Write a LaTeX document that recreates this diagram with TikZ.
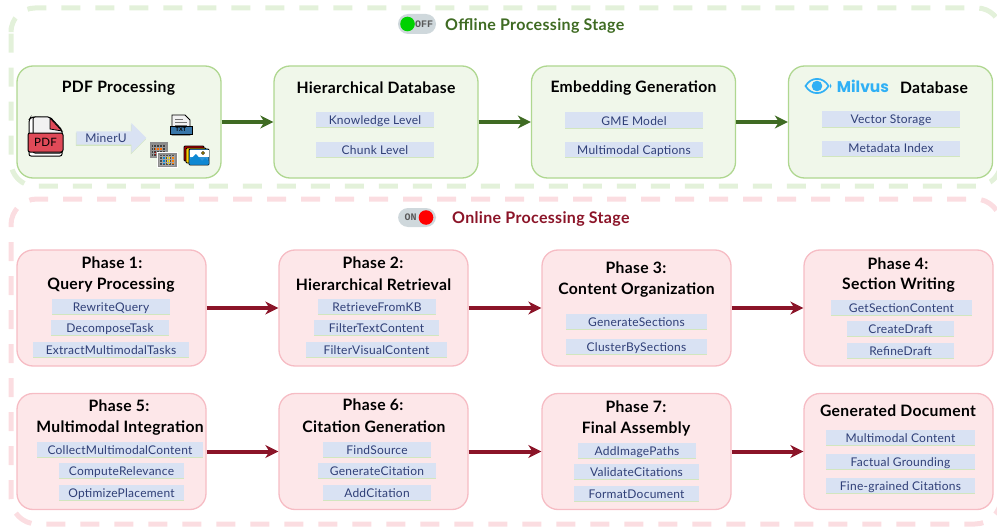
\documentclass[tikz,border=0pt]{standalone}
\usepackage{fontspec}
\setmainfont{Lato}[LetterSpace=2]
\newfontfamily\logofont{Poppins}
\newfontfamily\switchfont{Liberation Mono}
\usetikzlibrary{arrows.meta}
\usetikzlibrary{shapes.arrows}
\usetikzlibrary{shadows}

\definecolor{offgreen}{HTML}{3F6B23}
\definecolor{onred}{HTML}{8B1428}
\definecolor{gfill}{HTML}{F0F7EA}
\definecolor{gline}{HTML}{AFD790}
\definecolor{pfill}{HTML}{FDE7E9}
\definecolor{pline}{HTML}{F6BCC4}
\definecolor{gdash}{HTML}{E3F1DA}
\definecolor{pdash}{HTML}{FBDDE1}
\definecolor{chipfill}{HTML}{D9E2F3}
\definecolor{chiptext}{HTML}{2F3F77}
\definecolor{chipshade}{HTML}{D2E6BF}
\definecolor{milvus}{HTML}{30B0F5}
\definecolor{pdfred}{HTML}{E04A58}
\definecolor{switchgrey}{HTML}{CFD8DC}

\tikzset{
  gbox/.style={draw=gline, fill=gfill, line width=1.3pt, rounded corners=16pt, minimum width=204pt, minimum height=112pt},
  pbox/.style={draw=pline, fill=pfill, line width=1.3pt, rounded corners=16pt, minimum width=189pt, minimum height=116pt},
  title/.style={font=\fontsize{15.7}{18}\selectfont\bfseries, text=black, inner sep=0pt, yshift=-1pt},
  chip/.style={fill=chipfill, text=chiptext, font=\fontsize{12}{14}\selectfont, inner sep=0pt, minimum height=15pt, text height=11pt, text depth=1pt,
    drop shadow={shadow xshift=0pt, shadow yshift=-1.3pt, fill=chipshade, opacity=1}},
  garrow/.style={draw=offgreen, line width=4pt, -{Stealth[length=13pt,width=13pt,inset=4pt]}},
  parrow/.style={draw=onred, line width=4pt, -{Stealth[length=13pt,width=13pt,inset=4pt]}},
  stage/.style={font=\fontsize{16}{18}\selectfont\bfseries, inner sep=0pt, anchor=west, yshift=-1pt},
  switchtext/.style={font=\fontsize{10}{10}\selectfont\switchfont\bfseries, text=black!65, inner sep=0pt}
}

\begin{document}
\begin{tikzpicture}[x=1pt, y=-1pt]
  \useasboundingbox (0,0) rectangle (997,527);

  % stage frames
  \draw[gdash, line width=5pt, dash pattern=on 19pt off 15pt, rounded corners=24pt] (11,52) -- (11,8) -- (1001,8) -- (1001,186) -- (11,186) -- cycle;
  \draw[pdash, line width=5pt, dash pattern=on 19pt off 15pt, rounded corners=26pt] (11,250) -- (11,199) -- (1001,199) -- (1001,524) -- (11,524) -- cycle;

  % offline switch
  \fill[switchgrey, rounded corners=10pt] (398,14) rectangle (436,34);
  \fill[green!82!black] (407.5,24) circle (7.3);
  \node[switchtext] (offtext) at (424,24) {OFF};
  \node[stage, text=offgreen] (offstage) at (445,25) {Offline Processing Stage};

  % online switch
  \fill[switchgrey, rounded corners=10pt] (398,208) rectangle (436,227);
  \fill[red] (426,217.5) circle (7.3);
  \node[switchtext] (ontext) at (410.5,217.5) {ON};
  \node[stage, text=onred] (onstage) at (452,218) {Online Processing Stage};

  % offline boxes
  \node[gbox] (pdfbox) at (119,122) {};
  \node[gbox] (hierbox) at (376,122) {};
  \node[gbox] (embbox) at (633.5,122) {};
  \node[gbox] (milvusbox) at (890.5,122) {};

  % online boxes
  \node[pbox] (phaseone) at (111.5,308) {};
  \node[pbox] (phasetwo) at (373.5,308) {};
  \node[pbox] (phasethree) at (636.5,308) {};
  \node[pbox] (phasefour) at (898.5,308) {};
  \node[pbox] (phasefive) at (111.5,451.5) {};
  \node[pbox] (phasesix) at (373.5,451.5) {};
  \node[pbox] (phaseseven) at (636.5,451.5) {};
  \node[pbox] (gendoc) at (898.5,451.5) {};

  % arrows
  \draw[garrow] (pdfbox) -- (hierbox);
  \draw[garrow] (hierbox) -- (embbox);
  \draw[garrow] (embbox) -- (milvusbox);
  \draw[parrow] (phaseone) -- (phasetwo);
  \draw[parrow] (phasetwo) -- (phasethree);
  \draw[parrow] (phasethree) -- (phasefour);
  \draw[parrow] (phasefive) -- (phasesix);
  \draw[parrow] (phasesix) -- (phaseseven);
  \draw[parrow] (phaseseven) -- (gendoc);

  % offline titles
  \node[title] (pdftitle) at (118.5,87) {PDF Processing};
  \node[title] (hiertitle) at (376,87) {Hierarchical Database};
  \node[title] (embtitle) at (633.5,87) {Embedding Generation};
  \node[title] (dbtitle) at (934,87) {Database};
  \node[inner sep=0pt, text=milvus, font=\fontsize{15.5}{18}\selectfont\logofont\bfseries] (milvustext) at (863,86.5) {Milvus};

  % milvus eye
  \draw[milvus, line width=1.7pt] (805.5,86) .. controls (811,76.5) and (823,76.5) .. (828.5,86) .. controls (823,95.5) and (811,95.5) .. (805.5,86) -- cycle;
  \fill[milvus] (817,86) circle (5.3);
  \fill[milvus] (830,83.5) -- (831.5,86) -- (830,88.5) -- cycle;

  % offline chips
  \node[chip, minimum width=118pt] (knowledge) at (375,119.5) {Knowledge Level};
  \node[chip, minimum width=118pt] (chunk) at (375,149.5) {Chunk Level};
  \node[chip, minimum width=138pt] (gme) at (634,120) {GME Model};
  \node[chip, minimum width=138pt] (captions) at (634,149) {Multimodal Captions};
  \node[chip, minimum width=138pt] (vector) at (891,119) {Vector Storage};
  \node[chip, minimum width=138pt] (metadata) at (891,148) {Metadata Index};

  % phase 1
  \node[title] (oneline) at (112,262) {Phase 1:};
  \node[title] (onename) at (111,284) {Query Processing};
  \node[chip, minimum width=118pt] (rewrite) at (111,306.5) {RewriteQuery};
  \node[chip, minimum width=118pt] (decompose) at (110,327.5) {DecomposeTask};
  \node[chip, minimum width=156pt] (extract) at (111,349.5) {ExtractMultimodalTasks};

  % phase 2
  \node[title] (twoline) at (373,262) {Phase 2:};
  \node[title] (twoname) at (373.5,284) {Hierarchical Retrieval};
  \node[chip, minimum width=118pt] (retrieve) at (377,306.5) {RetrieveFromKB};
  \node[chip, minimum width=125pt] (filtertext) at (376.5,327.5) {FilterTextContent};
  \node[chip, minimum width=141pt] (filtervisual) at (376.5,349.5) {FilterVisualContent};

  % phase 3
  \node[title] (threeline) at (636,267) {Phase 3:};
  \node[title] (threename) at (636.5,289) {Content Organization};
  \node[chip, minimum width=141pt] (sections) at (636.5,321.5) {GenerateSections};
  \node[chip, minimum width=141pt] (cluster) at (636.5,346.5) {ClusterBySections};

  % phase 4
  \node[title] (fourline) at (898,263) {Phase 4:};
  \node[title] (fourname) at (898.5,284) {Section Writing};
  \node[chip, minimum width=141pt] (getsection) at (901.5,307.5) {GetSectionContent};
  \node[chip, minimum width=107pt] (createdraft) at (900.5,328.5) {CreateDraft};
  \node[chip, minimum width=107pt] (refinedraft) at (900.5,350.5) {RefineDraft};

  % phase 5
  \node[title] (fiveline) at (119,405) {Phase 5:};
  \node[title] (fivename) at (120,427) {Multimodal Integration};
  \node[chip, minimum width=166pt] (collect) at (120,449.5) {CollectMultimodalContent};
  \node[chip, minimum width=125pt] (relevance) at (121.5,470.5) {ComputeRelevance};
  \node[chip, minimum width=125pt] (placement) at (121.5,492.5) {OptimizePlacement};

  % phase 6
  \node[title] (sixline) at (373,404) {Phase 6:};
  \node[title] (sixname) at (374,426) {Citation Generation};
  \node[chip, minimum width=108pt] (findsource) at (377,449.5) {FindSource};
  \node[chip, minimum width=118pt] (gencitation) at (377,470.5) {GenerateCitation};
  \node[chip, minimum width=108pt] (addcitation) at (377,492.5) {AddCitation};

  % phase 7
  \node[title] (sevenline) at (636,406) {Phase 7:};
  \node[title] (sevenname) at (636,428) {Final Assembly};
  \node[chip, minimum width=118pt] (imagepaths) at (637,450.5) {AddImagePaths};
  \node[chip, minimum width=125pt] (validate) at (636.5,471.5) {ValidateCitations};
  \node[chip, minimum width=125pt] (format) at (636.5,493.5) {FormatDocument};

  % generated document
  \node[title] (gentitle) at (898,410) {Generated Document};
  \node[chip, minimum width=149pt] (multicontent) at (900.5,437.5) {Multimodal Content};
  \node[chip, minimum width=149pt] (factual) at (900.5,461.5) {Factual Grounding};
  \node[chip, minimum width=149pt] (finegrained) at (900.5,485) {Fine-grained Citations};

  % miner arrow
  \node[single arrow, fill=chipfill, text=chiptext, font=\fontsize{12}{14}\selectfont, inner sep=1pt, minimum width=30pt, minimum height=70pt,
    single arrow head extend=7pt, single arrow head indent=0pt,
    drop shadow={shadow xshift=-0.5pt, shadow yshift=-1.3pt, fill=chipshade, opacity=1}] (miner) at (108,138) {\hspace*{-4pt}MinerU};

  % pdf icon
  \draw[black, line width=1pt, fill=white, rounded corners=2pt] (29,120) -- (29,156) -- (62,156) -- (62,133) -- (50,118) -- (31,117) -- cycle;
  \draw[black, line width=1pt, fill=black!5, rounded corners=2pt] (33,117) -- (50,117) -- (62,130) -- (62,153) -- (33,153) -- cycle;
  \draw[black, line width=0.8pt, fill=pdfred] (50,118) -- (62,131) -- (50,129) -- cycle;
  \node[draw=black, line width=1pt, fill=pdfred, rounded corners=2pt, text=black, font=\fontsize{11.5}{13}\selectfont, inner sep=0pt, minimum width=35pt, minimum height=19pt] (pdflabel) at (45.5,142.5) {PDF};

  % txt icon
  \draw[black, line width=0.9pt, fill=black!5] (172,115) -- (185,115) -- (190,120) -- (190,135) -- (172,135) -- cycle;
  \draw[black!55, line width=0.9pt] (175,119) -- (183,119) (175,122) -- (187,122) (175,125) -- (187,125);
  \node[draw=black, line width=0.8pt, fill=cyan!65!blue!75!black, text=black, font=\fontsize{5.5}{6}\selectfont\bfseries, inner sep=0pt, minimum width=22pt, minimum height=8pt] (txtlabel) at (181,130) {TXT};

  % table icons
  \fill[black!45] (150,142) rectangle (168,158);
  \fill[black!75] (152,145) rectangle (166,156);
  \fill[orange!85!red] (155,148) rectangle (163,151);
  \fill[red!75!black] (155,152) rectangle (163,155);
  \draw[black!40, line width=0.4pt, step=3pt] (152,145) grid (166,156);
  \draw[white, line width=0.6pt, fill=black!45] (157,152) rectangle (177,167);
  \fill[black!70] (159,155) rectangle (175,165);
  \fill[cyan!70!blue] (163,157) rectangle (166,164);
  \fill[yellow!85!orange] (167,157) rectangle (170,164);
  \fill[orange] (171,157) rectangle (174,164);
  \draw[black!35, line width=0.4pt, step=3pt] (159,155) grid (175,165);

  % image icon
  \draw[black, line width=0.8pt, fill=red!70!black, rounded corners=1pt] (184,146) rectangle (204,161);
  \draw[black, line width=0.8pt, fill=yellow!70!orange, rounded corners=1pt] (186,148) rectangle (206,163);
  \draw[black, line width=0.9pt, fill=cyan!70!blue!85!white, rounded corners=1pt] (189,149) rectangle (209,165);
  \fill[white] (189.5,149.5) rectangle (208.5,157);
  \fill[cyan!70!blue] (189.5,164.5) -- (189.5,160) -- (196,154) -- (202,161) -- (205,158) -- (208.5,161) -- (208.5,164.5) -- cycle;
  \draw[black, line width=0.5pt, fill=yellow!70!orange] (203,153) circle (1.6);

\end{tikzpicture}
\end{document}
